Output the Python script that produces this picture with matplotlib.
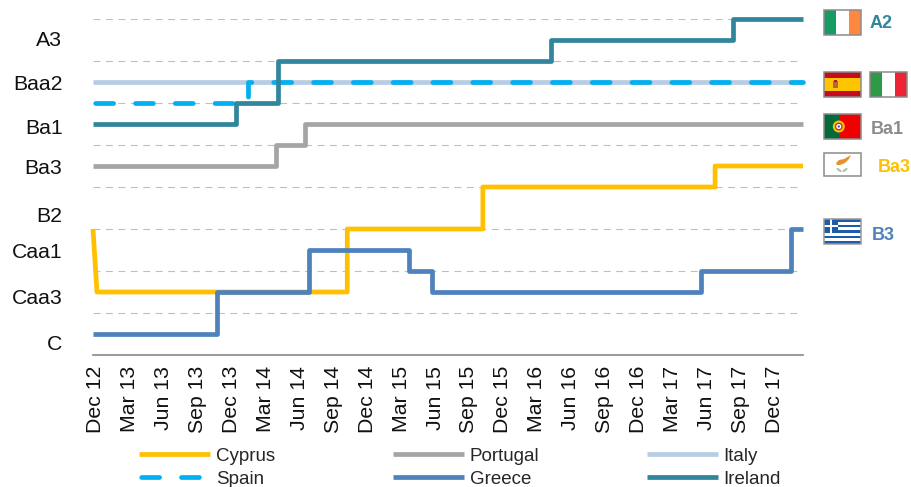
import matplotlib
matplotlib.use("Agg")
import matplotlib.pyplot as plt
from matplotlib.patches import Rectangle, Ellipse, Polygon, Circle
from matplotlib.transforms import Affine2D, ScaledTranslation

plt.rcParams['font.family'] = ['Liberation Sans', 'DejaVu Sans']

ratings = ['C', 'Ca', 'Caa3', 'Caa2', 'Caa1', 'B3', 'B2', 'B1', 'Ba3', 'Ba2', 'Ba1',
           'Baa3', 'Baa2', 'Baa1', 'A3', 'A2']
shown_ratings = ['C', 'Caa3', 'Caa1', 'B2', 'Ba3', 'Ba1', 'Baa2', 'A3']
shown_label_shift_px = [9, 5, 1, 7, 1, 3, 1, -2]

quarter_labels = ['Dec 12', 'Mar 13', 'Jun 13', 'Sep 13', 'Dec 13', 'Mar 14', 'Jun 14',
                  'Sep 14', 'Dec 14', 'Mar 15', 'Jun 15', 'Sep 15', 'Dec 15', 'Mar 16',
                  'Jun 16', 'Sep 16', 'Dec 16', 'Mar 17', 'Jun 17', 'Sep 17', 'Dec 17']
quarter_months = [3 * i for i in range(len(quarter_labels))]

END = 62.83
cyprus_m = [0, 0.35, 22.5, 22.5, 34.5, 34.5, 55.05, 55.05, END]
cyprus_r = ['B3', 'Caa3', 'Caa3', 'B3', 'B3', 'B1', 'B1', 'Ba3', 'Ba3']
portugal_m = [0, 16.2, 16.2, 18.8, 18.8, END]
portugal_r = ['Ba3', 'Ba3', 'Ba2', 'Ba2', 'Ba1', 'Ba1']
italy_m = [0, END]
italy_r = ['Baa2', 'Baa2']
spain_m = [0, 13.75, 13.75, END]
spain_r = ['Baa3', 'Baa3', 'Baa2', 'Baa2']
greece_m = [0, 10.95, 10.95, 19.1, 19.1, 27.95, 27.95, 30.0, 30.0, 53.8, 53.8, 61.75, 61.75, END]
greece_r = ['C', 'C', 'Caa3', 'Caa3', 'Caa1', 'Caa1', 'Caa2', 'Caa2', 'Caa3', 'Caa3', 'Caa2',
            'Caa2', 'B3', 'B3']
ireland_m = [0, 12.65, 12.65, 16.4, 16.4, 40.5, 40.5, 56.65, 56.65, END]
ireland_r = ['Ba1', 'Ba1', 'Baa3', 'Baa3', 'Baa1', 'Baa1', 'A3', 'A3', 'A2', 'A2']

C_CYP, C_POR, C_ITA, C_SPA, C_GRE, C_IRE = '#FFC000', '#A5A5A5', '#B8CCE4', '#00B0F0', '#4F81BD', '#31859C'
TXT = '#111111'
W, H = 912, 487

fig = plt.figure(figsize=(W / 100, H / 100), dpi=100)
ax = fig.add_axes([93 / W, 1 - 355 / H, (803 - 93) / W, (355 - 19) / H])
ax.set_xlim(0, END)
ax.set_ylim(-1, 15)

idx = {r: i for i, r in enumerate(ratings)}
def ys(lst):
    return [idx[r] for r in lst]

LW = 3.4
common = dict(lw=LW, solid_joinstyle='round', solid_capstyle='butt', clip_on=False, zorder=3)
l_cyp, = ax.plot(cyprus_m, ys(cyprus_r), color=C_CYP, label='Cyprus', **common)
l_por, = ax.plot(portugal_m, ys(portugal_r), color=C_POR, label='Portugal', **common)
l_ita, = ax.plot(italy_m, ys(italy_r), color=C_ITA, label='Italy', **common)
l_spa, = ax.plot(spain_m, ys(spain_r), color=C_SPA, label='Spain', lw=LW, clip_on=False, zorder=3,
                 linestyle=(-0.46, (3.8, 4.63)), dash_capstyle='round', dash_joinstyle='round')
l_gre, = ax.plot(greece_m, ys(greece_r), color=C_GRE, label='Greece', **common)
l_ire, = ax.plot(ireland_m, ys(ireland_r), color=C_IRE, label='Ireland', **common)

# axes furniture
for s in ['top', 'left', 'right']:
    ax.spines[s].set_visible(False)
ax.spines['bottom'].set_color('#868686')
ax.spines['bottom'].set_linewidth(1.2)
ax.set_axisbelow(True)
ax.set_yticks(ys(shown_ratings))
ax.set_yticklabels(shown_ratings, fontsize=15.3, color=TXT)
ax.set_yticks(range(len(ratings)), minor=True)
ax.grid(True, axis='y', which='minor', color='#BFBFBF', lw=0.8, linestyle=(0, (6.2, 5.0)))
ax.tick_params(axis='y', which='both', length=0, pad=22)
for lab, dy in zip(ax.get_yticklabels(), shown_label_shift_px):
    lab.set_transform(lab.get_transform() + ScaledTranslation(0, -dy / 100, fig.dpi_scale_trans))
ax.set_xticks(quarter_months)
ax.set_xticklabels(quarter_labels, rotation=90, fontsize=15.3, color=TXT)
ax.tick_params(axis='x', length=0, pad=8)
for lab in ax.get_xticklabels():
    lab.set_transform(lab.get_transform() + ScaledTranslation(3 / 100, 0, fig.dpi_scale_trans))

# legend, three separate columns
legend_cols = [((l_cyp, l_spa), 139), ((l_por, l_gre), 393), ((l_ita, l_ire), 647)]
for (handles, xpx) in legend_cols:
    fig.legend(handles=list(handles), loc='lower left', bbox_to_anchor=(xpx / W, -0.002),
               frameon=False, fontsize=13.5, handlelength=3.79, handletextpad=0.3,
               labelspacing=0.31, borderpad=0, borderaxespad=0, labelcolor='#262626')

# flags & annotations in pixel coordinates (y down)
px = Affine2D().scale(1, -1).translate(0, H)

def rect(x, y, w, h, c, z=5):
    fig.add_artist(Rectangle((x, y), w, h, transform=px, fc=c, ec='none', zorder=z))

def border(x, y, w, h, c='#8C8C8C'):
    fig.add_artist(Rectangle((x, y), w, h, transform=px, fc='none', ec=c, lw=1.1, zorder=7))

FW, FH = 37, 25
# Ireland
x, y = 824, 10
for i, c in enumerate(['#169B62', '#FFFFFF', '#FF883E']):
    rect(x + i * FW / 3, y, FW / 3, FH, c)
border(x, y, FW, FH)
# Spain
x, y = 824, 72
rect(x, y, FW, FH, '#C60B1E')
rect(x, y + 6.2, FW, 12.5, '#FFC400')
rect(x + 9, y + 9, 5, 7, '#AD6A3C', 6)
rect(x + 10, y + 8, 3, 2, '#C8102E', 6)
border(x, y, FW, FH)
# Italy
x, y = 870, 72
for i, c in enumerate(['#2E9A46', '#FFFFFF', '#EE2436']):
    rect(x + i * FW / 3, y, FW / 3, FH, c)
border(x, y, FW, FH)
# Portugal
x, y = 824, 114
rect(x, y, FW * 0.4, FH, '#046A38')
rect(x + FW * 0.4, y, FW * 0.6, FH, '#F00000')
fig.add_artist(Circle((x + FW * 0.4, y + FH / 2), 6, transform=px, fc='#F2C200', ec='none', zorder=6))
fig.add_artist(Circle((x + FW * 0.4, y + FH / 2), 3.2, transform=px, fc='#FFFFFF', ec='#C8102E', lw=0.8, zorder=6))
fig.add_artist(Circle((x + FW * 0.4, y + FH / 2), 1.1, transform=px, fc='#1F4FA0', ec='none', zorder=6))
border(x, y, FW, FH)
# Cyprus
x, y = 824, 153
rect(x, y, FW, 22.5, '#FFFFFF')
fig.add_artist(Polygon([(x + 12, y + 10), (x + 15, y + 7), (x + 20, y + 6), (x + 27, y + 2),
                        (x + 25, y + 6), (x + 21, y + 10), (x + 16, y + 12), (x + 13, y + 12)],
                       closed=True, transform=px, fc='#E8912D', ec='none', zorder=6))
fig.add_artist(Ellipse((x + 15, y + 17), 6, 2.5, angle=35, transform=px, fc='#A9C7B0', ec='none', zorder=6))
fig.add_artist(Ellipse((x + 21, y + 17), 6, 2.5, angle=-35, transform=px, fc='#A9C7B0', ec='none', zorder=6))
border(x, y, FW, 22.5)
# Greece
x, y = 824, 219
sh = FH / 9
for i in range(9):
    rect(x, y + i * sh, FW, sh, '#1C5CA8' if i % 2 == 0 else '#FFFFFF')
rect(x, y, 5 * sh, 5 * sh, '#1C5CA8', 6)
rect(x + 2 * sh, y, sh, 5 * sh, '#FFFFFF', 6)
rect(x, y + 2 * sh, 5 * sh, sh, '#FFFFFF', 6)
border(x, y, FW, FH, '#9A9A9A')

end_labels = ['A2', 'Ba1', 'Ba3', 'B3']
end_label_x = [870, 871, 878, 872]
end_label_y = [23, 129, 167, 235]
end_label_c = [C_IRE, '#8C8C8C', C_CYP, C_GRE]
for t, xx, yy, c in zip(end_labels, end_label_x, end_label_y, end_label_c):
    fig.text(xx, yy, t, transform=px, color=c, fontsize=13, fontweight='bold', ha='left', va='center')

fig.savefig('out.png', dpi=100, facecolor='white')
